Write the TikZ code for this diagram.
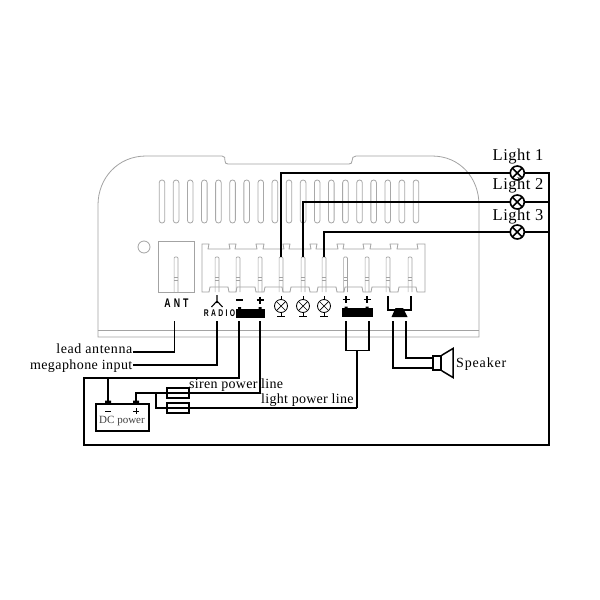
\documentclass[tikz,border=0pt]{standalone}
\usepackage{fontspec}
\setmainfont{Liberation Serif}
\newfontfamily\capsfont[LetterSpace=35]{Liberation Sans}
\newfontfamily\serifA[LetterSpace=2]{Liberation Serif}
\newfontfamily\serifB[LetterSpace=3]{Liberation Serif}
\newfontfamily\serifC[LetterSpace=4]{Liberation Serif}
\newfontfamily\serifD[LetterSpace=6]{Liberation Serif}
\tikzset{
  case/.style={draw=black!36,line width=0.8pt},
  slotline/.style={draw=black!34,line width=0.8pt,rounded corners=2.7pt},
  pinline/.style={draw=black!36,line width=0.7pt},
  wire/.style={draw=black,line width=1.9pt,line cap=butt,line join=miter},
  lbl/.style={inner sep=0pt,font=\fontsize{14}{14}\selectfont},
  lightlbl/.style={inner sep=0pt,font=\fontsize{16.5}{17}\selectfont\serifB},
  caps/.style={inner sep=0pt,xscale=0.7},
  lampnode/.style={circle,draw=black,line width=1.6pt,minimum size=14pt,inner sep=0pt,fill=white,
    path picture={\draw[black,line width=1.5pt] ($(path picture bounding box.north west)+(2pt,-2pt)$) -- ($(path picture bounding box.south east)+(-2pt,2pt)$)
      ($(path picture bounding box.north east)+(-2pt,-2pt)$) -- ($(path picture bounding box.south west)+(2pt,2pt)$);}},
  smalllamp/.style={circle,draw=black,line width=0.8pt,minimum size=13pt,inner sep=0pt,
    path picture={\draw[black,line width=0.7pt] ($(path picture bounding box.north west)+(1.9pt,-1.9pt)$) -- ($(path picture bounding box.south east)+(-1.9pt,1.9pt)$)
      ($(path picture bounding box.north east)+(-1.9pt,-1.9pt)$) -- ($(path picture bounding box.south west)+(1.9pt,1.9pt)$);}},
  battery/.style={fill=black,draw=black,inner sep=0pt,minimum height=8pt},
  fuse/.style={draw=black,line width=1.2pt,inner sep=0pt,minimum width=22pt,minimum height=10pt},
}
\usetikzlibrary{calc}
\begin{document}
\begin{tikzpicture}[x=1pt,y=-1pt]
\useasboundingbox[fill=white] (0,0) rectangle (600,600);
% housing
\draw[case] (98,337) -- (98,205) .. controls (98,178) and (118,156) .. (146,156)
  -- (222,156) .. controls (225,156) and (225,158) .. (225,161) .. controls (225,163) and (226,164) .. (228,164)
  -- (349,164) .. controls (351,164) and (352,163) .. (352,161) .. controls (352,158) and (353,156) .. (356,156)
  -- (432,156) .. controls (460,156) and (479,178) .. (479,205) -- (479,337) -- cycle;
\draw[case] (98,330) -- (479,330);
\foreach \i in {0,...,18}{
  \draw[slotline] ({162+\i*14.11-2.8},180) rectangle ({162+\i*14.11+2.8},223);
}
\node[circle,case,minimum size=12pt,inner sep=0pt] (led) at (144,247) {};
\node[case,rectangle,minimum width=36pt,minimum height=51pt,inner sep=0pt] (antbox) at (176,266.5) {};
% terminal block
\draw[case] (202,292) -- (202,244)
  \foreach \a/\b in {209/229,236/256,264/283,290/310,317/337,344/363,371/390,398/417}{ -- (\a,244) -- (\a-1,249) -- (\b+1,249) -- (\b,244) }
  -- (425,244) -- (425,292)
  \foreach \a/\b in {417/398,390/371,363/344,337/317,310/290,283/264,256/236,229/209}{ -- (\a,292) -- (\a-1,287) -- (\b+1,287) -- (\b,292) }
  -- cycle;
\foreach \n/\x in {ant/176,p1/217,p2/238,p3/260,p4/281,p5/303,p6/324,p7/345.5,p8/367,p9/388,p10/410}{
  \coordinate (\n) at (\x,257);
  \draw[pinline,rounded corners=1pt] (\x-1.9,292) -- (\x-1.9,257) -- (\x+1.9,257) -- (\x+1.9,292);
  \draw[pinline] (\x-1.9,277) -- (\x+1.9,277) (\x-1.9,280) -- (\x+1.9,280);
}
% printed labels
\node[caps,font=\fontsize{12.5}{13}\selectfont\bfseries\capsfont] (antlbl) at (176.5,303.5) {ANT};
\node[caps,font=\fontsize{9.7}{10}\selectfont\bfseries\capsfont] (radiolbl) at (219.5,313.5) {RADIO};
\draw[black,line width=1.1pt] (217,295) -- (217,303) (217,301) -- (211.5,307) (217,301) -- (222.5,307);
% left battery symbol
\node[battery,minimum width=28pt] (batA) at (250,313) {};
\fill (238,307) rectangle (241,309) (258.5,307) rectangle (261.5,309);
\draw[black,line width=1.2pt] (236,300) -- (243,300) (256.5,300) -- (263.5,300) (260,296.5) -- (260,303.5);
% lamp symbols
\foreach \n/\x in {s1/281,s2/303,s3/324}{
  \node[smalllamp] (\n) at (\x,306) {};
  \draw[black,line width=0.8pt] (\x,296) -- (\n.north) (\n.south) -- (\x,316.5) (\x-4,316.5) -- (\x+4,316.5);
}
% right battery symbol
\node[battery,minimum width=30pt] (batB) at (357,312.5) {};
\fill (344.5,306.5) rectangle (347.5,308.5) (365.5,306.5) rectangle (368.5,308.5);
\draw[black,line width=1.2pt] (342.5,299.5) -- (349.5,299.5) (346,296) -- (346,303) (363.5,299.5) -- (370.5,299.5) (367,296) -- (367,303);
% horn symbol
\draw[black,line width=1.1pt] (396,310) -- (388,310) -- (388,296) (403,310) -- (411,310) -- (411,296);
\fill (395.5,308) -- (403,308) -- (407.5,317) -- (391.5,317) -- cycle;
% lights
\node[lampnode] (lamp1) at (517.3,173) {};
\node[lampnode] (lamp2) at (517.3,202) {};
\node[lampnode] (lamp3) at (517.3,232) {};
\node[lightlbl] (l1) at (518,156.5) {Light 1};
\node[lightlbl] (l2) at (518,186) {Light 2};
\node[lightlbl] (l3) at (518,217) {Light 3};
% speaker
\node[draw=black,line width=1.5pt,minimum width=8pt,minimum height=14pt,inner sep=0pt] (spk) at (437,363) {};
\draw[black,line width=1.5pt,line join=miter] (spk.north east) -- (453,348.5) -- (453,377.5) -- (spk.south east);
\node[lbl,anchor=west,font=\fontsize{14}{14}\selectfont\serifD] (spklbl) at (456,364) {Speaker};
% wire labels
\node[lbl,anchor=east,font=\fontsize{14}{14}\selectfont\serifC] (antin) at (132.5,348.5) {lead antenna};
\node[lbl,anchor=east,font=\fontsize{14}{14}\selectfont\serifB] (megin) at (132.5,366) {megaphone input};
\node[lbl,anchor=west,font=\fontsize{14}{14}\selectfont\serifA] (siren) at (189,385) {siren power line};
\node[lbl,anchor=west,font=\fontsize{14}{14}\selectfont\serifA] (lightl) at (261,400) {light power line};
% DC power
\node[draw=black,line width=1.3pt,minimum width=53pt,minimum height=27pt,inner sep=0pt] (dc) at (122.5,417.5) {};
\node[inner sep=0pt,text=black!75,font=\fontsize{11}{11}\selectfont] (dclbl) at (122,421) {DC power};
\fill (105,400.5) rectangle (111,404) (133,400.5) rectangle (139,404);
\draw[black,line width=1pt] (105,411) -- (111,411) (133,411) -- (139,411) (136,408) -- (136,414);
\coordinate (dcm) at (108,401);
\coordinate (dcp) at (136,401);
% fuses
\node[fuse] (f1) at (178,393) {};
\node[fuse] (f2) at (178,408) {};
% free wire ends under the case
\foreach \n/\x in {wa/174.5,wb/217,wc/239,wd/260,we/346,wf/369,wg/393,wh/406}{\coordinate (\n) at (\x,321);}
\coordinate (busm) at (357,350.5);
% wires
\draw[wire] (wa) |- (antin.east |- 0,352);
\draw[wire] (wb) |- (megin.east |- 0,365);
\draw[wire] (wc) |- (84,378) |- (549,445) |- (lamp1.east);
\draw[wire] (lamp1.west) -| (p4);
\draw[wire] (lamp2.west) -| (p5);
\draw[wire] (lamp3.west) -| (p6);
\draw[wire] (lamp2.east) -- (lamp2.east -| 549,0);
\draw[wire] (lamp3.east) -- (lamp3.east -| 549,0);
\draw[wire] (dcm) -- (dcm |- 0,378);
\draw[wire] (dcp) |- (f1.west);
\draw[wire,line width=1.6pt] (f1.west) -- (f1.east) -| (wd);
\draw[wire,line width=1.6pt] (156,393) |- (f2.west);
\draw[wire,line width=1.6pt] (f2.east) -- (f2.east -| busm);
\draw[wire,line width=1.6pt] (f2.west) -- (f2.east);
\draw[wire] (f2.east -| busm) -- (busm);
\draw[wire] (we) |- (wf |- busm) -- (wf);
\draw[wire] (wg) |- (spk.west |- 0,368);
\draw[wire] (wh) |- (spk.west |- 0,358);
\end{tikzpicture}
\end{document}
